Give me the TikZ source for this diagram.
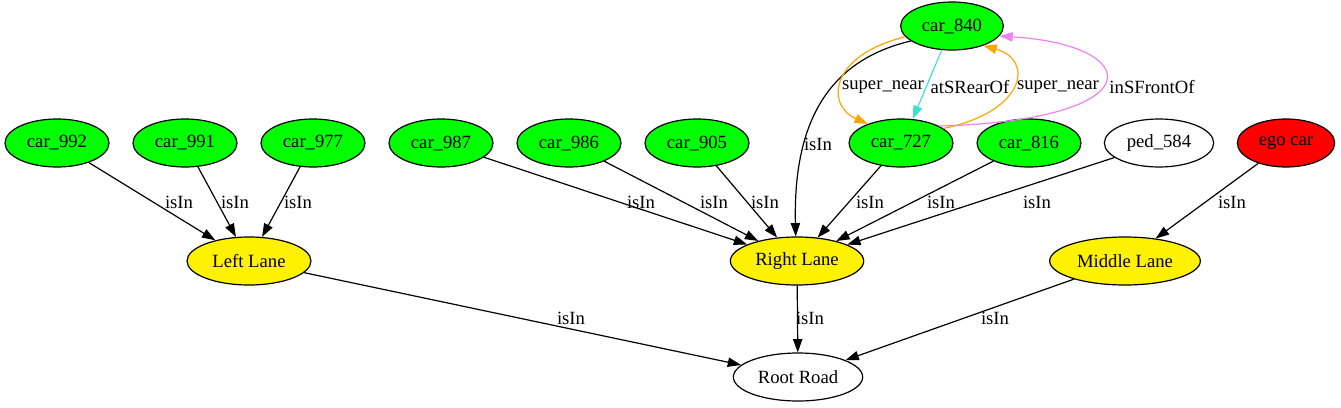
\documentclass[tikz,border=0pt]{standalone}
\usepackage{fontspec}
\setmainfont{Liberation Serif}
\usetikzlibrary{arrows.meta,shapes.geometric}
\definecolor{gvorange}{HTML}{FFA500}
\definecolor{gvturq}{HTML}{40E0D0}
\definecolor{gvviolet}{HTML}{EE82EE}

\begin{document}
\begin{tikzpicture}[x=0.75pt,y=-0.75pt]
\fontsize{14pt}{16pt}\selectfont
\useasboundingbox (0,0) rectangle (1341,407);
\begin{scope}[->,>={Triangle[length=10pt,width=7pt]},line width=0.9pt,
              obj/.style={ellipse,draw,minimum width=78pt,minimum height=36pt,inner sep=0pt},
              car/.style={obj,fill=green},
              lane/.style={obj,fill=yellow},
              lbl/.style={inner sep=0pt}]
    % objects
    \node [car] (c992) at (57,143) {car\_992};
    \node [car] (c991) at (185,143) {car\_991};
    \node [car] (c977) at (313,143) {car\_977};
    \node [car] (c987) at (441,143) {car\_987};
    \node [car] (c986) at (569,143) {car\_986};
    \node [car] (c905) at (697,143) {car\_905};
    \node [car] (c727) at (901,143) {car\_727};
    \node [car] (c816) at (1029,143) {car\_816};
    \node [obj,minimum width=82pt] (p584) at (1159,143) {ped\_584};
    \node [obj,fill=red,minimum width=73pt] (ego) at (1286,143) {ego car};
    \node [car,minimum width=77pt] (c840) at (952,26) {car\_840};
    % lanes and road
    \node [lane,minimum width=93pt] (ll) at (249,261) {Left Lane};
    \node [lane,minimum width=100pt] (rl) at (797,261) {Right Lane};
    \node [lane,minimum width=113pt] (ml) at (1125,261) {Middle Lane};
    \node [obj,minimum width=97pt] (rr) at (798,377) {Root Road};
    % isIn
    \draw (c992) -- (ll) node [lbl] at (179,202) {isIn};
    \draw (c991) -- (ll) node [lbl] at (235,202) {isIn};
    \draw (c977) -- (ll) node [lbl] at (298,202) {isIn};
    \draw (c987) -- (rl) node [lbl] at (641,202) {isIn};
    \draw (c986) -- (rl) node [lbl] at (714,202) {isIn};
    \draw (c905) -- (rl) node [lbl] at (765,202) {isIn};
    \draw (c840.200) .. controls (830,60) and (793,120) .. (rl.93) node [lbl] at (818,144) {isIn};
    \draw (c727) -- (rl) node [lbl] at (870,202) {isIn};
    \draw (c816) -- (rl) node [lbl] at (941,202) {isIn};
    \draw (p584) -- (rl) node [lbl] at (1037,202) {isIn};
    \draw (ego) -- (ml) node [lbl] at (1232,202) {isIn};
    \draw (ll) -- (rr) node [lbl] at (571,318) {isIn};
    \draw (rl) -- (rr) node [lbl] at (810,318) {isIn};
    \draw (ml) -- (rr) node [lbl] at (995,318) {isIn};
    % relations between cars
    \draw [gvorange] (c840.193) .. controls (830,55) and (825,105) .. (c727.150) node [lbl,black] at (883,87) {super\_near};
    \draw [gvturq] (c840.247) -- (c727.64) node [lbl,black] at (970,87) {atSRearOf};
    \draw [gvorange] (c727.19) .. controls (1025,112) and (1035,60) .. (c840.-32) node [lbl,black] at (1058,87) {super\_near};
    \draw [gvviolet] (c727.24) .. controls (1155,120) and (1145,45) .. (c840.-12) node [lbl,black] at (1152,87) {inSFrontOf};
\end{scope}
\end{tikzpicture}
\end{document}
